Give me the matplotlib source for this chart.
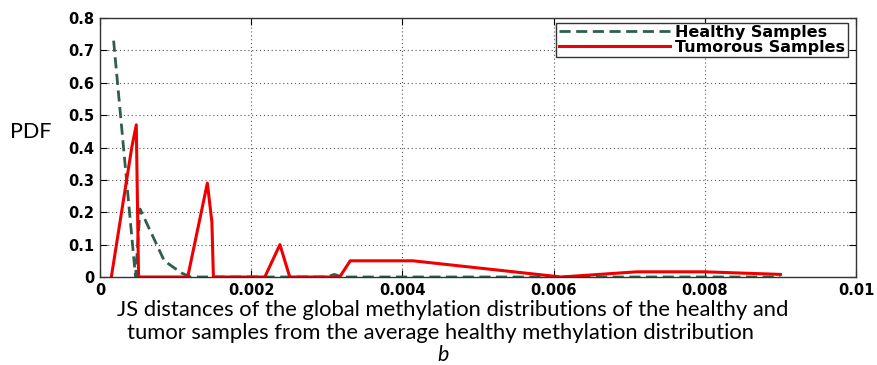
import matplotlib
matplotlib.use("Agg")
import matplotlib.pyplot as plt

# JS distance / PDF values
healthy_x = [0.00018, 0.00047, 0.00053, 0.00085, 0.00108, 0.0012, 0.0030, 0.0031, 0.0032, 0.0090]
healthy_y = [0.73, 0.0, 0.21, 0.05, 0.012, 0.0, 0.0, 0.008, 0.0, 0.0]

tumor_x = [0.00015, 0.00042, 0.00048, 0.00051, 0.00116, 0.00142, 0.00148, 0.0015,
           0.00218, 0.00238, 0.00251, 0.00317, 0.00331, 0.00414, 0.0061, 0.0071,
           0.0080, 0.0090]
tumor_y = [0.0, 0.40, 0.47, 0.0, 0.0, 0.29, 0.17, 0.0,
           0.0, 0.10, 0.0, 0.0, 0.05, 0.05, 0.0, 0.016,
           0.016, 0.008]

labels = ["Healthy Samples", "Tumorous Samples"]
xticks = [0, 0.002, 0.004, 0.006, 0.008, 0.01]
xtick_labels = ["0", "0.002", "0.004", "0.006", "0.008", "0.01"]
yticks = [0, 0.1, 0.2, 0.3, 0.4, 0.5, 0.6, 0.7, 0.8]
ytick_labels = ["0", "0.1", "0.2", "0.3", "0.4", "0.5", "0.6", "0.7", "0.8"]
xlabel_lines = ["JS distances of the global methylation distributions of the healthy and",
                "tumor samples from the average healthy methylation distribution"]

W, H = 878, 365
fig = plt.figure(figsize=(W / 100, H / 100), dpi=100)
ax = fig.add_axes([100 / W, 1 - 277 / H, 756 / W, 259 / H])

ax.plot(healthy_x, healthy_y, color="#2f5e4c", lw=2, ls=(0, (4, 2)), label=labels[0])
ax.plot(tumor_x, tumor_y, color="#ee0000", lw=2.2, label=labels[1])

ax.set_xlim(0, 0.01)
ax.set_ylim(0, 0.8)
ax.set_xticks(xticks, xtick_labels, fontweight="bold")
ax.set_yticks(yticks, ytick_labels, fontweight="bold")
ax.tick_params(direction="in", top=True, right=True, length=5, width=0.8, pad=4,
               labelsize=10.5)
ax.grid(True, ls=(0, (1, 2.5)), color="#555555", lw=0.8)
for s in ax.spines.values():
    s.set_linewidth(1.0)
    s.set_color("#333333")

leg = ax.legend(loc="upper right", bbox_to_anchor=(0.989, 0.982), borderaxespad=0,
                fancybox=False, edgecolor="#333333", framealpha=1,
                prop={"weight": "bold", "size": 11.5}, handlelength=7,
                handletextpad=0.3, labelspacing=0.0, borderpad=0.15)
leg.get_frame().set_linewidth(1.0)

fig.text(10 / W, 1 - 132 / H, "PDF", family="Lato", fontsize=15.5, va="center", ha="left")
fig.text(453 / W, 1 - 316 / H, xlabel_lines[0], family="Lato", fontsize=15.8,
         ha="center", va="baseline")
fig.text(441 / W, 1 - 339 / H, xlabel_lines[1], family="Lato", fontsize=15.8,
         ha="center", va="baseline")
fig.text(443 / W, 1 - 361 / H, "b", family="Lato", fontsize=15.5, style="italic",
         ha="center", va="baseline")

fig.savefig("out.png", dpi=100)
